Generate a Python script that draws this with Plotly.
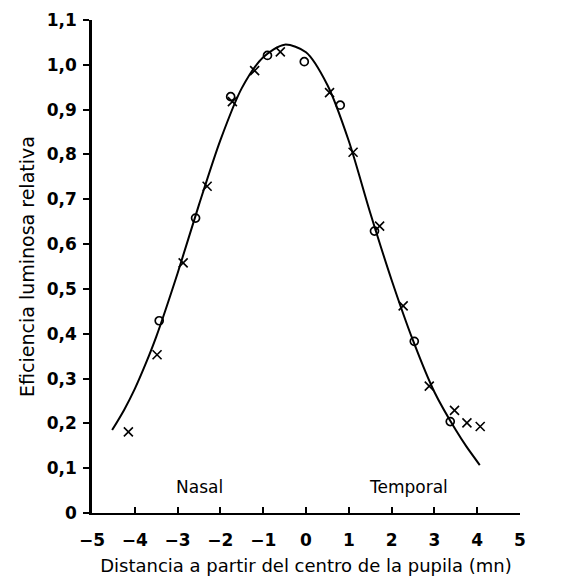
import plotly.graph_objects as go

# Fitted curve
curve_x = [-4.53, -4.25, -4.0, -3.75, -3.5, -3.0, -2.5, -2.0, -1.5, -1.0, -0.5, 0.0, 0.5, 1.0, 1.5, 2.0, 2.5, 3.0, 3.5, 3.75, 4.06]
curve_y = [0.185, 0.23, 0.277, 0.332, 0.393, 0.535, 0.688, 0.832, 0.948, 1.017, 1.045, 1.028, 0.955, 0.83, 0.67, 0.52, 0.385, 0.27, 0.185, 0.148, 0.107]

# Circles
circ_x = [-3.43, -2.58, -1.76, -0.90, -0.04, 0.80, 1.60, 2.53, 3.37]
circ_y = [0.429, 0.658, 0.929, 1.021, 1.007, 0.910, 0.629, 0.383, 0.204]

# Crosses
cross_x = [-4.15, -3.48, -2.87, -2.31, -1.72, -1.20, -0.60, 0.55, 1.10, 1.72, 2.27, 2.88, 3.47, 3.76, 4.07]
cross_y = [0.181, 0.353, 0.558, 0.729, 0.918, 0.987, 1.029, 0.938, 0.805, 0.640, 0.462, 0.283, 0.229, 0.201, 0.193]

x_ticks = [-5, -4, -3, -2, -1, 0, 1, 2, 3, 4, 5]
x_tick_text = ["\u22125", "\u22124", "\u22123", "\u22122", "\u22121", "0", "1", "2", "3", "4", "5"]
y_ticks = [0, 0.1, 0.2, 0.3, 0.4, 0.5, 0.6, 0.7, 0.8, 0.9, 1.0, 1.1]
y_tick_text = ["0", "0,1", "0,2", "0,3", "0,4", "0,5", "0,6", "0,7", "0,8", "0,9", "1,0", "1,1"]

labels = ["Nasal", "Temporal"]
label_x = [-2.5, 2.4]
label_y = [0.058, 0.058]

FONT = "DejaVu Sans, Liberation Sans, Arial, sans-serif"

fig = go.Figure()
fig.add_trace(go.Scatter(x=curve_x, y=curve_y, mode="lines",
                         line=dict(color="black", width=2, shape="spline", smoothing=0.8),
                         showlegend=False, hoverinfo="skip"))
fig.add_trace(go.Scatter(x=circ_x, y=circ_y, mode="markers",
                         marker=dict(symbol="circle-open", size=8, color="black", line=dict(width=1.7, color="black")),
                         showlegend=False))
fig.add_trace(go.Scatter(x=cross_x, y=cross_y, mode="markers",
                         marker=dict(symbol="x-thin-open", size=9, color="black", line=dict(width=1.6, color="black")),
                         showlegend=False))

for t, xx, yy in zip(labels, label_x, label_y):
    fig.add_annotation(x=xx, y=yy, text=t, showarrow=False,
                       font=dict(family=FONT, size=17, color="black"))

fig.update_layout(
    width=565, height=581,
    margin=dict(l=92, r=45, t=20, b=68),
    paper_bgcolor="white", plot_bgcolor="white",
    font=dict(family=FONT, color="black"),
    xaxis=dict(range=[-5, 5], tickvals=x_ticks, ticktext=x_tick_text, automargin=False,
               ticks="inside", ticklen=6, tickwidth=1.5, tickcolor="black",
               showline=True, linecolor="black", linewidth=2, showgrid=False, zeroline=False,
               ticklabelstandoff=11,
               tickfont=dict(family=FONT, size=17, color="black", weight="bold"),
               title=dict(text="Distancia a partir del centro de la pupila (mn)",
                          font=dict(family=FONT, size=18, color="black"), standoff=10)),
    yaxis=dict(range=[0, 1.1], tickvals=y_ticks, ticktext=y_tick_text, automargin=False,
               ticks="outside", ticklen=6, tickwidth=1.5, tickcolor="black",
               showline=True, linecolor="black", linewidth=2.5, showgrid=False, zeroline=False,
               ticklabelstandoff=3,
               tickfont=dict(family=FONT, size=17, color="black", weight="bold"),
               title=dict(text="Eficiencia luminosa relativa",
                          font=dict(family=FONT, size=19, color="black"), standoff=8)),
)

fig.write_html("out.html")
